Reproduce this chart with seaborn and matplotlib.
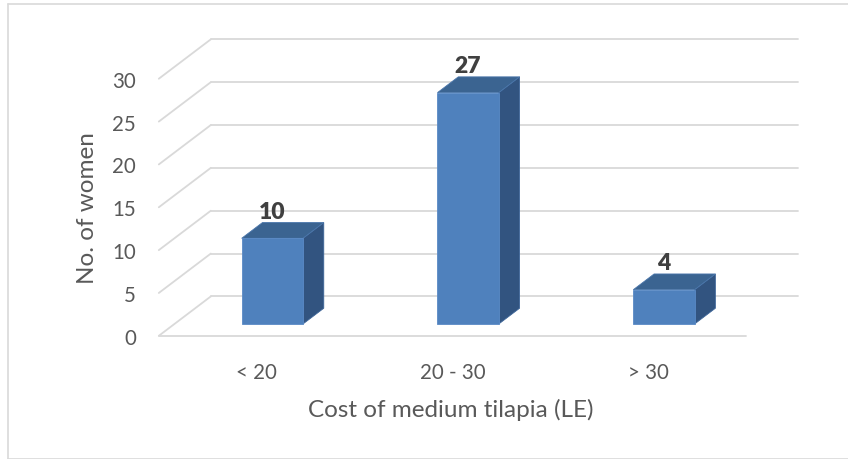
import matplotlib
matplotlib.use("Agg")
import matplotlib.pyplot as plt
import seaborn as sns
import pandas as pd
from matplotlib.patches import Polygon
from matplotlib.lines import Line2D

categories = ["< 20", "20 - 30", "> 30"]
counts = [10, 27, 4]
yticks = [0, 5, 10, 15, 20, 25, 30]
xlabel = "Cost of medium tilapia (LE)"
ylabel = "No. of women"

sns.set_theme(style="white")
plt.rcParams['font.family'] = ['Lato', 'DejaVu Sans']

W, H = 848, 460
fig = plt.figure(figsize=(W / 100, H / 100), dpi=100)
ax = fig.add_axes([143 / W, (H - 345) / H, (810 - 143) / W, (345 - 35) / H])

df = pd.DataFrame({"cat": categories, "n": counts})
sns.barplot(data=df, x="cat", y="n", width=0.313, color="#4F81BD",
            saturation=1, ax=ax, zorder=3, edgecolor="#5A8AC6", linewidth=0.6)

ax.set_xlim(-0.6604, 2.746)
ax.set_ylim(-2.334, 33.84)

# depth vector (data units per unit depth)
DX, DY = 0.2656, 4.597
grid_c = "#D9D9D9"


def pt(u, v, t):
    return (u + DX * t, v + DY * t)

# back wall gridlines and left diagonals
for v in yticks:
    a = pt(-0.5, v, 0.7)
    b = pt(2.5, v, 0.7)
    ax.add_line(Line2D([a[0], b[0]], [a[1], b[1]], color=grid_c, lw=1.3, zorder=1))
    c = pt(-0.5, v, -0.3)
    ax.add_line(Line2D([c[0], a[0]], [c[1], a[1]], color=grid_c, lw=1.3, zorder=1))
# floor front edge
a = pt(-0.5, 0, -0.3)
b = pt(2.5, 0, -0.3)
ax.add_line(Line2D([a[0], b[0]], [a[1], b[1]], color=grid_c, lw=1.3, zorder=1))

# 3D faces from the seaborn bars
bd = 0.4
for p in ax.patches[:len(counts)]:
    x0 = p.get_x()
    w = p.get_width()
    h = p.get_height()
    x1 = x0 + w
    top = [(x0, h), (x1, h), (x1 + DX * bd, h + DY * bd), (x0 + DX * bd, h + DY * bd)]
    side = [(x1, 0), (x1, h), (x1 + DX * bd, h + DY * bd), (x1 + DX * bd, DY * bd)]
    ax.add_patch(Polygon(side, closed=True, facecolor="#325480", edgecolor="#3E6699",
                         lw=0.6, zorder=2.9))
    ax.add_patch(Polygon(top, closed=True, facecolor="#3B6491", edgecolor="#4A76AB",
                         lw=0.6, zorder=2.9))

ax.bar_label(ax.containers[0], labels=[str(c) for c in counts], padding=12,
             fontsize=16.5, fontweight="heavy", color="#404040")

# tick labels on the front plane
ax.set_yticks([v - 0.3 * DY for v in yticks])
ax.set_yticklabels([str(v) for v in yticks])
ax.set_xticks([i - 0.3 * DX for i in range(len(categories))])
ax.set_xticklabels(categories)
ax.tick_params(axis="y", length=0, pad=5, labelsize=14.8, labelcolor="#595959")
ax.tick_params(axis="x", length=0, pad=13, labelsize=14.8, labelcolor="#595959")
ax.set_xlabel("")
ax.set_ylabel("")
for s in ax.spines.values():
    s.set_visible(False)
ax.set_facecolor("none")

fig.text(87 / W, 1 - 208 / H, ylabel, rotation=90, ha="center", va="center",
         fontsize=17.5, color="#595959")
fig.text(451 / W, 1 - 410 / H, xlabel, ha="center", va="center",
         fontsize=17.5, color="#595959")

# outer chart border
bc = "#D9D9D9"
fig.add_artist(Line2D([7.5 / W, 1], [1 - 5 / H, 1 - 5 / H], color=bc, lw=1.2, transform=fig.transFigure))
fig.add_artist(Line2D([7.5 / W, 7.5 / W], [1 - 5 / H, 1 - 459.5 / H], color=bc, lw=1.2, transform=fig.transFigure))
fig.add_artist(Line2D([7.5 / W, 1], [1 - 459.5 / H, 1 - 459.5 / H], color=bc, lw=1.2, transform=fig.transFigure))

fig.savefig("out.png", dpi=100, facecolor="white")
